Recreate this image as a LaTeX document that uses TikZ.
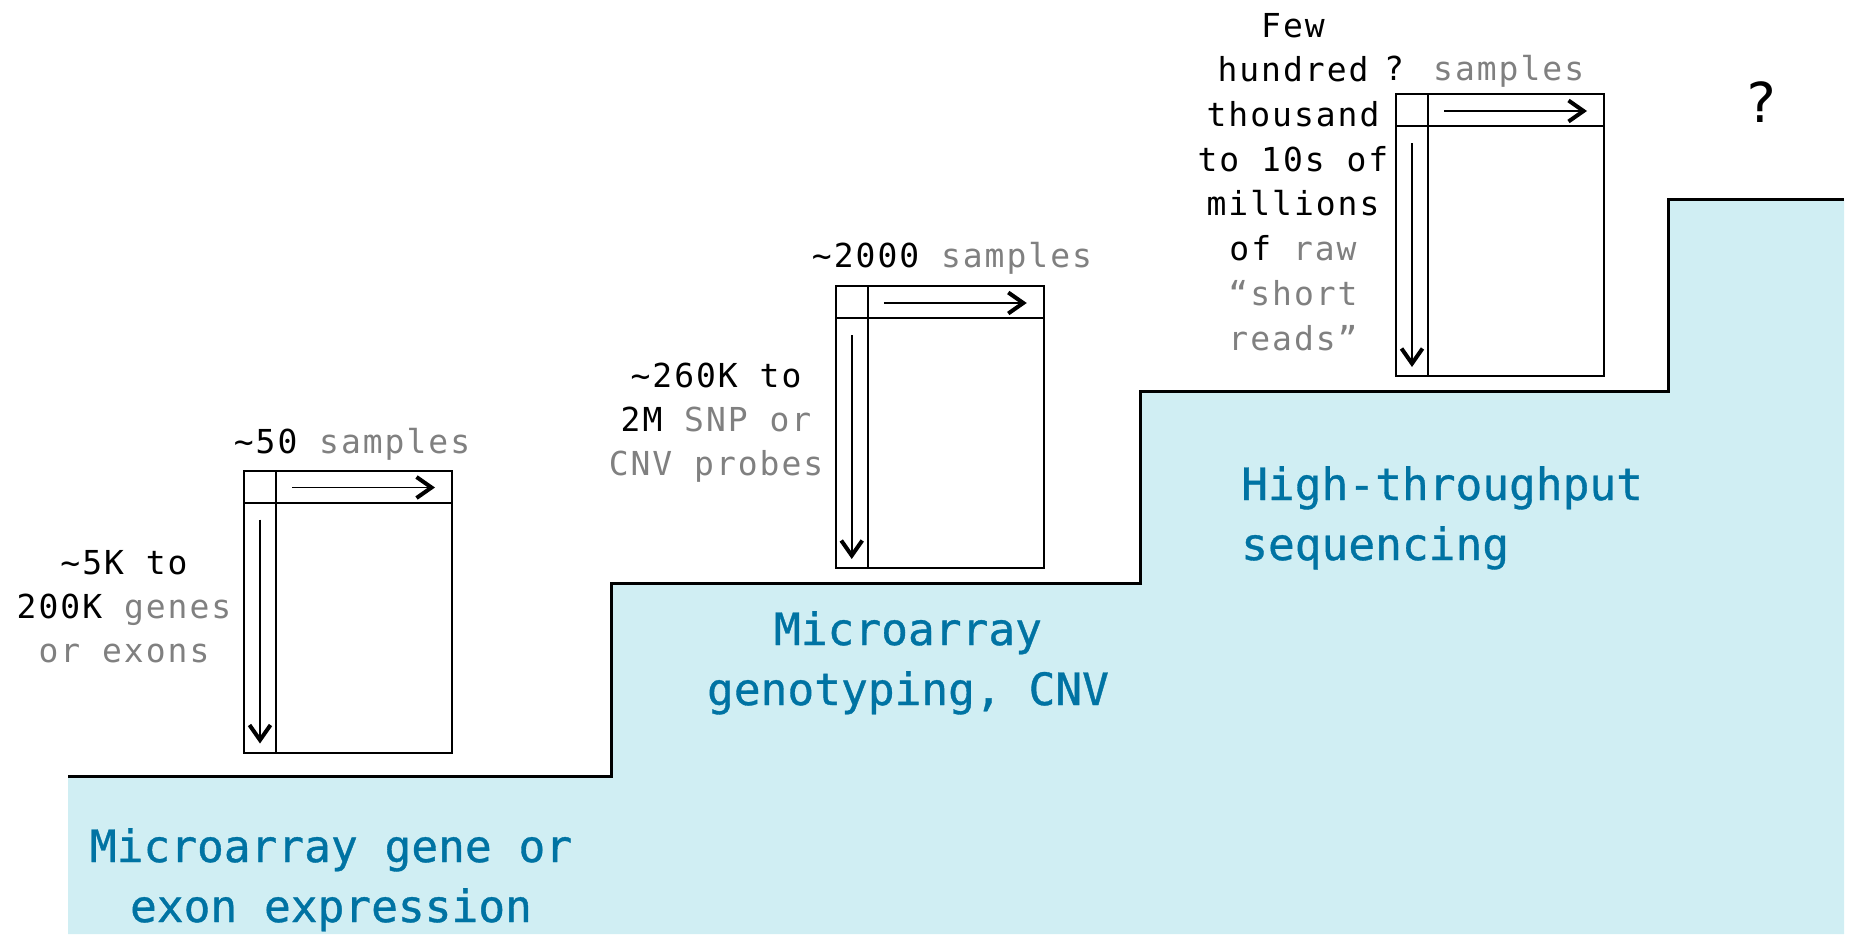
\documentclass[tikz,border=0pt]{standalone}
\usepackage{fontspec}
\usetikzlibrary{arrows.meta}
\newfontfamily\blkfont[LetterSpace=6]{DejaVu Sans Mono}
\newfontfamily\bluefont[FakeBold=0.8]{DejaVu Sans Mono}
\newfontfamily\qfont{DejaVu Sans Mono}
\definecolor{stairfill}{HTML}{D0EEF3}
\definecolor{stepblue}{HTML}{0073A3}
\definecolor{labelgray}{HTML}{808080}
\newcommand{\gry}[1]{\textcolor{labelgray}{#1}}
\tikzset{
  matframe/.style={draw, line width=2pt, minimum width=208pt, minimum height=282pt, inner sep=0pt, outer sep=0pt},
  matline/.style={line width=2pt},
  matarrow/.style={line width=1.6pt, -{Straight Barb[length=15pt,width=21pt,line width=4pt]}},
  blacklabel/.style={font=\blkfont\fontsize{33pt}{44pt}\selectfont, align=center, inner sep=0pt, text=black},
  bluelabel/.style={font=\bluefont\fontsize{44.5pt}{60pt}\selectfont, inner sep=0pt, text=stepblue},
  stairline/.style={line width=3pt, line join=miter},
}
\newcommand{\matbox}[3]{%
  \node[matframe] (#1) at (#2,#3) {};
  \draw[matline] ([xshift=32pt]#1.north west) -- ([xshift=32pt]#1.south west);
  \draw[matline] ([yshift=-32pt]#1.north west) -- ([yshift=-32pt]#1.north east);
  \coordinate (#1ha) at ([xshift=48pt,yshift=-17pt]#1.north west);
  \coordinate (#1hb) at ([xshift=-17pt,yshift=-17pt]#1.north east);
  \coordinate (#1va) at ([xshift=16pt,yshift=-49pt]#1.north west);
  \coordinate (#1vb) at ([xshift=16pt,yshift=9pt]#1.south west);
  \draw[matarrow] (#1ha) -- (#1hb);
  \draw[matarrow] (#1va) -- (#1vb);
}
\begin{document}
\begin{tikzpicture}[x=1pt,y=-1pt]
\useasboundingbox (0,0) rectangle (1854,934);
% staircase
\fill[stairfill] (68,776) -- (611,776) -- (611,583) -- (1140,583) -- (1140,391)
  -- (1668,391) -- (1668,199) -- (1844,199) -- (1844,934) -- (68,934) -- cycle;
\draw[stairline] (68,776) -- (611,776) -- (611,583) -- (1140,583) -- (1140,391)
  -- (1668,391) -- (1668,199) -- (1844,199);
% matrices
\matbox{mA}{348}{611.5}
\matbox{mB}{939.75}{427}
\matbox{mC}{1500}{235}
% labels step 1
\node[blacklabel, anchor=base] (colA) at (352,453) {\textasciitilde 50 \gry{samples}};
\node[blacklabel, anchor=base] (rowA) at (124,662) {\textasciitilde 5K to\\200K \gry{genes}\\\gry{or exons}};
% labels step 2
\node[blacklabel, anchor=base] (colB) at (952,267) {\textasciitilde 2000 \gry{samples}};
\node[blacklabel, anchor=base] (rowB) at (716,475) {\textasciitilde 260K to\\2M \gry{SNP or}\\\gry{CNV probes}};
% labels step 3
\node[blacklabel, anchor=base west] (colC) at (1384,80) {? \gry{samples}};
\node[blacklabel, font=\blkfont\fontsize{33pt}{44.7pt}\selectfont, anchor=base] (rowC) at (1293,350) {Few\\hundred\\thousand\\to 10s of\\millions\\of \gry{raw}\\\gry{“short}\\\gry{reads”}};
% future
\node[font=\qfont\fontsize{55pt}{60pt}\selectfont, inner sep=0pt, anchor=base] (future) at (1761,122) {?};
% step names
\node[bluelabel, align=center, anchor=base] (stepA) at (331,922) {Microarray gene or\\exon expression};
\node[bluelabel, align=center, anchor=base] (stepB) at (908,705) {Microarray\\genotyping, CNV};
\node[bluelabel, align=left, anchor=base west] (stepC) at (1241,560) {High-throughput\\sequencing};
\end{tikzpicture}
\end{document}
